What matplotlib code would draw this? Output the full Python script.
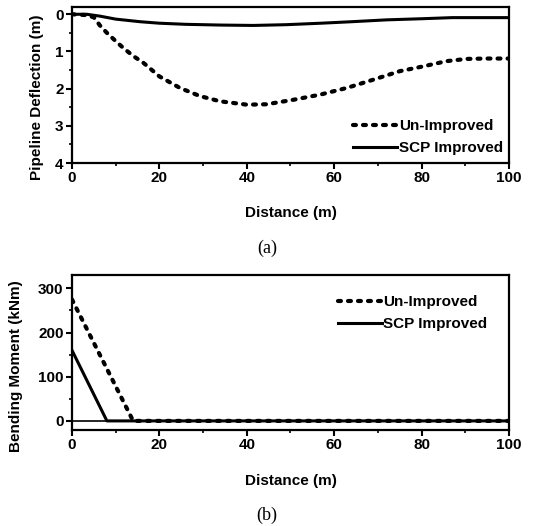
import numpy as np
import matplotlib
matplotlib.use("Agg")
import matplotlib.pyplot as plt
from matplotlib.ticker import MultipleLocator

plt.rcParams['font.family'] = ['Liberation Sans', 'DejaVu Sans']
plt.rcParams['font.weight'] = 'bold'
plt.rcParams['axes.labelweight'] = 'bold'

# (a) pipeline deflection along the pipe
dist_a = [0, 3, 5, 6.4, 8, 10, 11.7, 14, 16.3, 20, 24.7, 29.3, 33.9, 40, 44.5,
          50.6, 56.8, 62.9, 68.9, 75, 80.4, 85.7, 90.3, 95, 100]
defl_unimproved = [0.0, 0.02, 0.08, 0.3, 0.5, 0.72, 0.9, 1.12, 1.3, 1.67, 1.98,
                   2.2, 2.34, 2.43, 2.42, 2.3, 2.16, 1.98, 1.76, 1.53, 1.4,
                   1.26, 1.2, 1.19, 1.19]
dist_a_scp = [0, 3.4, 6.4, 10, 15.6, 20, 26, 34, 41.5, 49, 57, 64, 72, 80, 87, 100]
defl_scp = [0.0, 0.0, 0.05, 0.13, 0.2, 0.24, 0.27, 0.29, 0.3, 0.28, 0.24,
            0.2, 0.15, 0.12, 0.09, 0.09]

# (b) bending moment along the pipe
dist_b_unimp = [0, 14, 100]
moment_unimproved = [275, 0, 0]
dist_b_scp = [0, 8, 100]
moment_scp = [160, 0, 0]

fig = plt.figure(figsize=(5.45, 5.26), dpi=100)
ax1 = fig.add_axes([0.132, 0.690, 0.802, 0.297])
ax2 = fig.add_axes([0.132, 0.183, 0.802, 0.294])

dash_style = dict(color='black', lw=3.0, linestyle=(0, (0.7, 1.7)),
                  dash_capstyle='round')
solid_style = dict(color='black', lw=2.2)

ax1.plot(dist_a, defl_unimproved, label='Un-Improved', **dash_style)
ax1.plot(dist_a_scp, defl_scp, label='SCP Improved', **solid_style)
ax1.set_xlim(0, 100)
ax1.set_ylim(4, -0.2)
ax1.yaxis.set_major_locator(MultipleLocator(1))
ax1.yaxis.set_minor_locator(MultipleLocator(0.5))
ax1.set_ylabel('Pipeline Deflection (m)', fontsize=11)
ax1.yaxis.set_label_coords(-0.064, 0.42)
ax1.set_xlabel('Distance (m)', fontsize=11, labelpad=15)
ax1.legend(loc='lower right', bbox_to_anchor=(1.007, -0.01), frameon=False,
           fontsize=11, handlelength=2.9, handletextpad=0.1,
           labelspacing=0.55, borderaxespad=0.2)

ax2.axhline(0, color='black', lw=1.2)
ax2.plot(dist_b_unimp, moment_unimproved, label='Un-Improved', **dash_style)
ax2.plot(dist_b_scp, moment_scp, label='SCP Improved', **solid_style)
ax2.set_xlim(0, 100)
ax2.set_ylim(-20, 330)
ax2.yaxis.set_major_locator(MultipleLocator(100))
ax2.yaxis.set_minor_locator(MultipleLocator(50))
ax2.set_ylabel('Bending Moment (kNm)', fontsize=11)
ax2.yaxis.set_label_coords(-0.112, 0.41)
ax2.set_xlabel('Distance (m)', fontsize=11, labelpad=16)
ax2.legend(loc='upper right', bbox_to_anchor=(0.972, 0.93), frameon=False,
           fontsize=11, handlelength=2.9, handletextpad=0.1,
           labelspacing=0.55, borderaxespad=0.2)

for ax in (ax1, ax2):
    ax.xaxis.set_major_locator(MultipleLocator(20))
    ax.xaxis.set_minor_locator(MultipleLocator(10))
    ax.tick_params(which='major', direction='out', length=4, width=1.5,
                   labelsize=11, pad=2)
    ax.tick_params(which='minor', direction='out', length=2, width=1.2)
    for sp in ax.spines.values():
        sp.set_linewidth(1.6)

fig.text(0.49, 0.528, '(a)', ha='center', va='center', fontsize=13,
         family='Liberation Serif', weight='normal')
fig.text(0.49, 0.021, '(b)', ha='center', va='center', fontsize=13,
         family='Liberation Serif', weight='normal')

fig.savefig('out.png', dpi=100)
